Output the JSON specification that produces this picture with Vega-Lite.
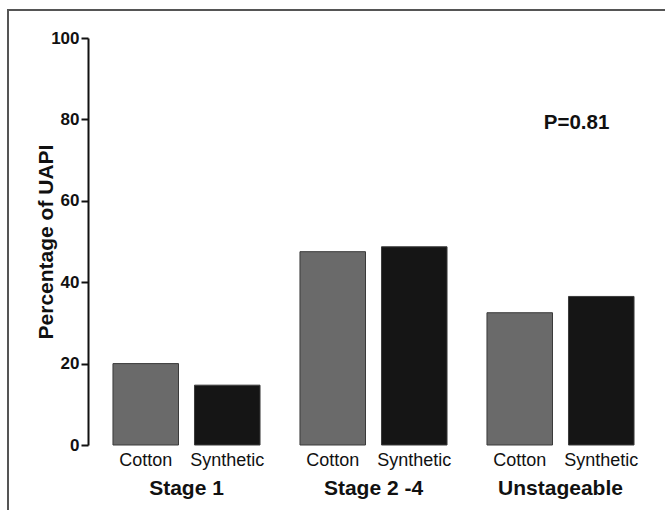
{
  "$schema": "https://vega.github.io/schema/vega-lite/v6.json",
  "width": 700,
  "height": 540,
  "autosize": {"type": "none"},
  "padding": {"left": 8, "top": 10, "right": -43, "bottom": -40},
  "background": "white",
  "config": {
    "font": "Liberation Sans",
    "view": {"stroke": "#555555", "strokeWidth": 2}
  },
  "data": {
    "values": [
      {"stage": "Stage 1", "material": "Cotton", "pct": 20},
      {"stage": "Stage 1", "material": "Synthetic", "pct": 14.7},
      {"stage": "Stage 2 -4", "material": "Cotton", "pct": 47.5},
      {"stage": "Stage 2 -4", "material": "Synthetic", "pct": 48.7},
      {"stage": "Unstageable", "material": "Cotton", "pct": 32.5},
      {"stage": "Unstageable", "material": "Synthetic", "pct": 36.5}
    ]
  },
  "layer": [
    {
      "mark": {"type": "bar", "stroke": "#3a3a3a", "strokeWidth": 1},
      "encoding": {
        "x": {
          "field": "stage",
          "type": "nominal",
          "sort": ["Stage 1", "Stage 2 -4", "Unstageable"],
          "scale": {"range": [85, 646], "paddingInner": 0, "paddingOuter": 0},
          "axis": {
            "title": null,
            "orient": "bottom",
            "domain": false,
            "ticks": false,
            "labelAngle": 0,
            "labelPadding": 0,
            "labelBaseline": "top",
            "offset": -73,
            "labelFont": "Liberation Sans",
            "labelFontSize": 21,
            "labelFontWeight": "bold",
            "labelColor": "#111111"
          }
        },
        "xOffset": {
          "field": "material",
          "type": "nominal",
          "scale": {"paddingInner": 0.196, "paddingOuter": 0.245}
        },
        "y": {
          "field": "pct",
          "type": "quantitative",
          "scale": {"domain": [0, 100], "range": [435, 28], "nice": false},
          "axis": {
            "title": "Percentage of UAPI",
            "orient": "left",
            "offset": -80,
            "values": [0, 20, 40, 60, 80, 100],
            "grid": false,
            "domainColor": "#111111",
            "domainWidth": 2,
            "tickColor": "#111111",
            "tickWidth": 2,
            "tickSize": 7,
            "labelPadding": 2,
            "labelFont": "Liberation Sans",
            "labelFontSize": 17,
            "labelFontWeight": "bold",
            "labelColor": "#111111",
            "titleFont": "Liberation Sans",
            "titleFontSize": 21,
            "titleFontWeight": "bold",
            "titleColor": "#111111",
            "titlePadding": -6
          }
        },
        "color": {
          "field": "material",
          "type": "nominal",
          "scale": {"domain": ["Cotton", "Synthetic"], "range": ["#6a6a6a", "#151515"]},
          "legend": null
        }
      }
    },
    {
      "mark": {"type": "text", "baseline": "top", "dy": 7, "fontSize": 18, "color": "#111111"},
      "encoding": {
        "x": {"field": "stage", "type": "nominal", "sort": ["Stage 1", "Stage 2 -4", "Unstageable"]},
        "xOffset": {"field": "material", "type": "nominal"},
        "y": {"datum": 0, "type": "quantitative"},
        "text": {"field": "material"}
      }
    },
    {
      "data": {"values": [{"stage": "Unstageable", "y": 79, "label": "P=0.81"}]},
      "mark": {"type": "text", "baseline": "middle", "align": "center", "dx": 16, "fontSize": 20.5, "fontWeight": "bold", "color": "#111111"},
      "encoding": {
        "x": {"field": "stage", "type": "nominal"},
        "y": {"field": "y", "type": "quantitative"},
        "text": {"field": "label"}
      }
    }
  ]
}
